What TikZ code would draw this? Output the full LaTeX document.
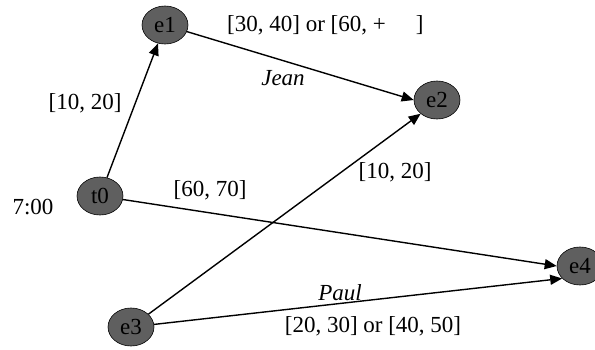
\documentclass[tikz,border=0pt]{standalone}
\usepackage{fontspec}
\setmainfont{Liberation Serif}
\usetikzlibrary{arrows.meta,shapes.geometric}
\definecolor{evgray}{HTML}{5F5F5F}

\begin{document}
\begin{tikzpicture}[x=1pt,y=-1pt,font=\fontsize{23}{27}\selectfont,
ev/.style={draw,ellipse,fill=evgray,minimum width=46pt,minimum height=38pt,inner sep=0pt,line width=.6pt},
lab/.style={inner sep=0pt},
arrow/.style={-{Triangle[length=12pt,width=10pt]},line width=1.4pt}]
\useasboundingbox (0,0) rectangle (595,349);
\node[ev](e1) at (165,25){e1};
\node[ev](e2) at (437,100){e2};
\node[ev](t0) at (100,196){t0};
\node[ev](e3) at (131,327){e3};
\node[ev](e4) at (580,266){e4};
\draw[arrow](t0)--(e1);\draw[arrow](e1)--(e2.west);\draw[arrow](t0)--(e4.west);
\draw[arrow](e3)--(e2.220);\draw[arrow](e3)--(e4.215);
\node[lab,anchor=west](l1) at (227,25){[30, 40] or [60, +\hspace{30pt}]};
\node[lab](jean) at (283,78){\textit{Jean}};
\node[lab](l2) at (85,103){[10, 20]};
\node[lab](time) at (33,207){7:00};
\node[lab](l3) at (210,190){[60, 70]};
\node[lab](l4) at (395,172){[10, 20]};
\node[lab](paul) at (340,293){\textit{Paul}};
\node[lab](l5) at (373,326){[20, 30] or [40, 50]};
\end{tikzpicture}
\end{document}
